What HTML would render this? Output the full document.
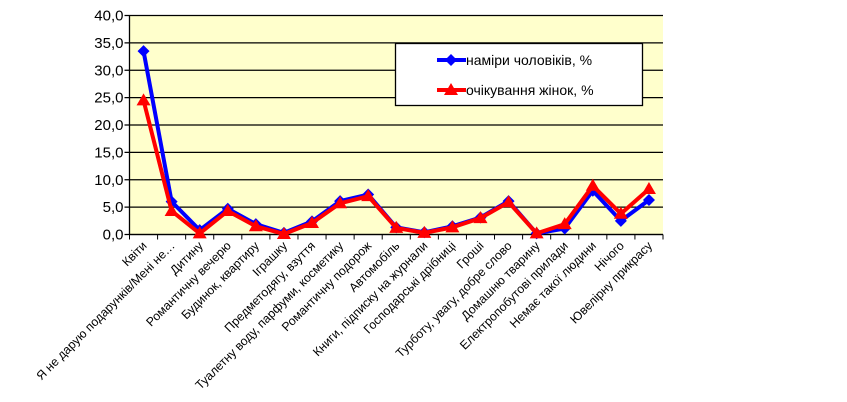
<!DOCTYPE html>
<html><head><meta charset="utf-8"><style>
body{margin:0;background:#fff;}
svg{display:block;font-family:"Liberation Sans",Arial,sans-serif;}
</style></head><body>
<svg id="c" width="847" height="402"></svg>
<script>
const categories=["Квіти","Я не дарую подарунків/Мені не…","Дитину","Романтичну вечерю","Будинок, квартиру","Іграшку","Предметодягу, взуття","Туалетну воду, парфуми, косметику","Романтичну подорож","Автомобіль","Книги, підписку на журнали","Господарські дрібниці","Гроші","Турботу, увагу, добре слово","Домашню тварину","Електропобутові прилади","Немає такої людини","Нічого","Ювелірну прикрасу"];
const menValues=[33.5,6.0,0.8,4.7,1.9,0.3,2.4,6.1,7.3,1.3,0.4,1.5,3.1,6.1,0.2,1.1,8.0,2.5,6.3];
const womenValues=[24.5,4.3,0.2,4.3,1.5,0.1,2.1,5.7,7.0,1.2,0.3,1.3,3.0,5.9,0.2,1.9,8.9,3.8,8.3];
const yTicks=[0,5,10,15,20,25,30,35,40];
const yTickLabels=["0,0","5,0","10,0","15,0","20,0","25,0","30,0","35,0","40,0"];
const seriesNames=["наміри чоловіків, %","очікування жінок, %"];

const svg=document.getElementById('c');const NS='http://www.w3.org/2000/svg';
const L=129.5,R=663,T=15.5,B=234.5;
const n=categories.length,step=(R-L)/n;
const x=i=>L+step*(i+0.5);
const y=v=>B-(v/40)*(B-T);
function mk(t,a,p){const e=document.createElementNS(NS,t);for(const k in a)e.setAttribute(k,a[k]);(p||svg).appendChild(e);return e;}
const bg=mk('rect',{x:L,y:T,width:R-L,height:B-T,fill:'#ffffcc'});


yTicks.forEach((v,i)=>{
 const g=mk('line',{x1:L-5,x2:R,y1:y(v),y2:y(v),stroke:'#000','stroke-width':1.3});
 
 
 const t=mk('text',{x:L-6,y:y(v)+5,'text-anchor':'end','font-size':15,fill:'#000'});t.textContent=yTickLabels[i];
 
 
});
mk('line',{x1:L,x2:L,y1:T,y2:B,stroke:'#000','stroke-width':1.3});
mk('line',{x1:L,x2:R,y1:B,y2:B,stroke:'#000','stroke-width':1.3});
for(let i=0;i<=n;i++)mk('line',{x1:L+step*i,x2:L+step*i,y1:B,y2:B+5,stroke:'#000'});
categories.forEach((c,i)=>{
 const t=mk('text',{x:0,y:0,'text-anchor':'end','font-size':12.3,fill:'#000',transform:`translate(${x(i)+4},${B+12}) rotate(-45)`});t.textContent=c;
 
 
});
function series(vals,color,marker,name){
 const pl=mk('polyline',{points:vals.map((v,i)=>x(i)+','+y(v)).join(' '),fill:'none',stroke:color,'stroke-width':4,'stroke-linejoin':'round'});
 
 
 vals.forEach((v,i)=>{const m=marker(x(i),y(v));
  
  });
}
const diamond=(cx,cy)=>mk('polygon',{points:`${cx},${cy-6} ${cx+6},${cy} ${cx},${cy+6} ${cx-6},${cy}`,fill:'#0000ff'});
const tri=(cx,cy)=>mk('polygon',{points:`${cx},${cy-7} ${cx+7},${cy+5} ${cx-7},${cy+5}`,fill:'#ff0000'});
series(menValues,'#0000ff',diamond,'men');
series(womenValues,'#ff0000',tri,'women');
const lg=mk('g',{});


mk('rect',{x:395.5,y:43.5,width:247,height:62,fill:'#fff',stroke:'#000','stroke-width':1.3},lg);
[['#0000ff',diamond,60],['#ff0000',tri,90]].forEach((d,i)=>{
 mk('line',{x1:437,x2:466,y1:d[2],y2:d[2],stroke:d[0],'stroke-width':4},lg);
 d[1](451,d[2]);
 const t=mk('text',{x:466,y:d[2]+5,'font-size':14,fill:'#000'},lg);t.textContent=seriesNames[i];
 
 
});
</script>
</body></html>
